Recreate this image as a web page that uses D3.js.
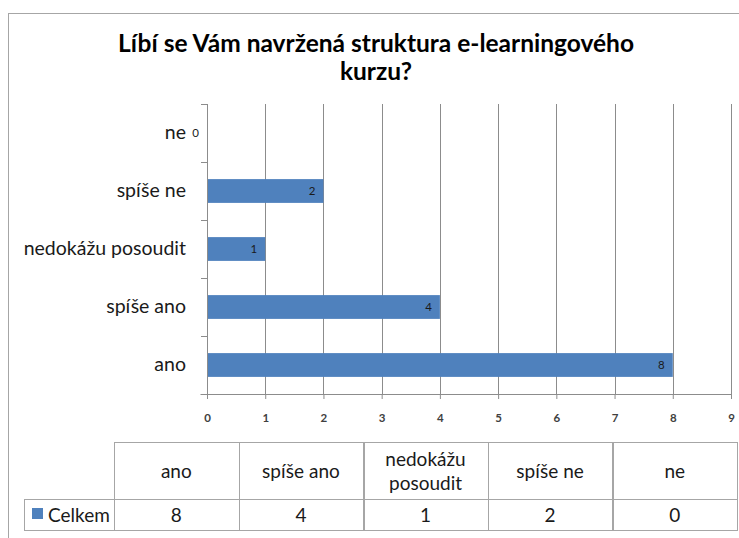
<!DOCTYPE html>
<html>
<head>
<meta charset="utf-8">
<script src="https://cdn.jsdelivr.net/npm/d3@7"></script>
<style>
  body { margin: 0; background: #fff; }
  svg { display: block; font-family: Lato, "Open Sans", sans-serif; }
</style>
</head>
<body>
<svg id="chart" width="739" height="538"></svg>
<script>
// data
var categories = ["ano", "spíše ano", "nedokážu posoudit", "spíše ne", "ne"];
var headerLines = [["ano"], ["spíše ano"], ["nedokážu", "posoudit"], ["spíše ne"], ["ne"]];
var values = [8, 4, 1, 2, 0];
var seriesName = "Celkem";
var xTicks = [0, 1, 2, 3, 4, 5, 6, 7, 8, 9];
var titleLines = ["Líbí se Vám navržená struktura e-learningového", "kurzu?"];

var barColor = "#4f81bd",
    gridColor = "#8c8c8c",
    borderColor = "#a6a6a6";

var svg = d3.select("#chart");

// outer chart border
svg.append("rect")
  .attr("x", 8.5).attr("y", 13.5)
  .attr("width", 760).attr("height", 560)
  .style("fill", "none")
  .style("stroke", borderColor);

// title
svg.append("text")
  .attr("x", 376)
  .attr("y", 52)
  .style("text-anchor", "middle")
  .style("font-size", "24.5px")
  .style("font-weight", "bold")
  .style("fill", "#000")
  .selectAll("tspan")
  .data(titleLines)
  .enter().append("tspan")
    .attr("x", 376)
    .attr("dy", function(d, i) { return i === 0 ? 0 : 28; })
    .text(function(d) { return d; });

var x = d3.scaleLinear().domain([0, 9]).range([207, 731]);

var y = d3.scaleBand()
  .domain(categories.slice().reverse())
  .range([104, 394])
  .paddingInner(0.59)
  .paddingOuter(0.295);

// vertical gridlines
svg.append("g")
  .selectAll("line")
  .data(xTicks.filter(function(d) { return d > 0; }))
  .enter().append("line")
    .attr("x1", function(d) { return Math.round(x(d)) + 0.5; })
    .attr("x2", function(d) { return Math.round(x(d)) + 0.5; })
    .attr("y1", 104)
    .attr("y2", 394)
    .style("stroke", gridColor);

// bars
svg.append("g")
  .selectAll("rect")
  .data(categories)
  .enter().append("rect")
    .attr("x", x(0))
    .attr("y", function(d) { return y(d); })
    .attr("width", function(d, i) { return x(values[i]) - x(0); })
    .attr("height", y.bandwidth())
    .style("fill", barColor);

// bar value labels (inside end)
svg.append("g")
  .selectAll("text")
  .data(categories)
  .enter().append("text")
    .attr("x", function(d, i) { return x(values[i]) - 8; })
    .attr("y", function(d) { return y(d) + y.bandwidth() / 2 + 4; })
    .style("text-anchor", "end")
    .style("font-size", "11.5px")
    .style("fill", "#1a1a1a")
    .text(function(d, i) { return values[i]; });

// x axis
var xAxis = svg.append("g")
  .attr("transform", "translate(0,394)")
  .call(d3.axisBottom(x).tickValues(xTicks).tickSize(5).tickPadding(15));
xAxis.select(".domain").attr("d", "M200.5,0.5H731.5");
xAxis.selectAll("line").style("stroke", gridColor);
xAxis.select(".domain").style("stroke", gridColor);
xAxis.selectAll("text")
  .style("font-family", "Lato, sans-serif")
  .style("font-size", "11.5px")
  .style("font-weight", "bold")
  .style("fill", "#404040");

// y axis
var yAxis = svg.append("g")
  .attr("transform", "translate(207,0)")
  .call(d3.axisLeft(y).tickSize(0).tickPadding(21));
yAxis.select(".domain").attr("d", "M0.5,104V398").style("stroke", gridColor);
yAxis.selectAll("text")
  .style("font-family", "Lato, sans-serif")
  .style("font-size", "19.5px")
  .style("fill", "#1a1a1a");
// category boundary ticks
svg.append("g")
  .selectAll("line")
  .data(d3.range(categories.length))
  .enter().append("line")
    .attr("x1", 201).attr("x2", 207)
    .attr("y1", function(i) { return Math.round(104 + i * y.step()) + 0.5; })
    .attr("y2", function(i) { return Math.round(104 + i * y.step()) + 0.5; })
    .style("stroke", gridColor);

// data table
var colX = d3.scaleBand().domain(categories).range([114, 737]);
var rowTop = 442, rowMid = 499, rowBot = 530, legendLeft = 24;

var table = svg.append("g").style("font-size", "19px").style("fill", "#1a1a1a");

table.selectAll("rect.head")
  .data(categories)
  .enter().append("rect")
    .attr("class", "head")
    .attr("x", function(d) { return Math.round(colX(d)) + 0.5; })
    .attr("y", rowTop + 0.5)
    .attr("width", Math.round(colX.bandwidth()))
    .attr("height", rowMid - rowTop)
    .style("fill", "none").style("stroke", borderColor);

table.selectAll("rect.val")
  .data(categories)
  .enter().append("rect")
    .attr("class", "val")
    .attr("x", function(d) { return Math.round(colX(d)) + 0.5; })
    .attr("y", rowMid + 0.5)
    .attr("width", Math.round(colX.bandwidth()))
    .attr("height", rowBot - rowMid)
    .style("fill", "none").style("stroke", borderColor);

table.append("rect")
  .attr("x", legendLeft + 0.5).attr("y", rowMid + 0.5)
  .attr("width", 114 - legendLeft).attr("height", rowBot - rowMid)
  .style("fill", "none").style("stroke", borderColor);

table.selectAll("text.head")
  .data(categories)
  .enter().append("text")
    .attr("class", "head")
    .attr("text-anchor", "middle")
    .each(function(d, i) {
      var lines = headerLines[i];
      var cy = (rowTop + rowMid) / 2;
      var t = d3.select(this);
      lines.forEach(function(l, j) {
        t.append("tspan")
          .attr("x", colX(d) + colX.bandwidth() / 2)
          .attr("y", cy + 7 + (j - (lines.length - 1) / 2) * 24)
          .text(l);
      });
    });

table.selectAll("text.val")
  .data(categories)
  .enter().append("text")
    .attr("class", "val")
    .attr("text-anchor", "middle")
    .attr("x", function(d) { return colX(d) + colX.bandwidth() / 2; })
    .attr("y", (rowMid + rowBot) / 2 + 7)
    .text(function(d, i) { return values[i]; });

table.append("rect")
  .attr("x", 32).attr("y", 508)
  .attr("width", 11).attr("height", 11)
  .style("fill", barColor);
table.append("text")
  .attr("x", 48)
  .attr("y", (rowMid + rowBot) / 2 + 7)
  .text(seriesName);
</script>
</body>
</html>
